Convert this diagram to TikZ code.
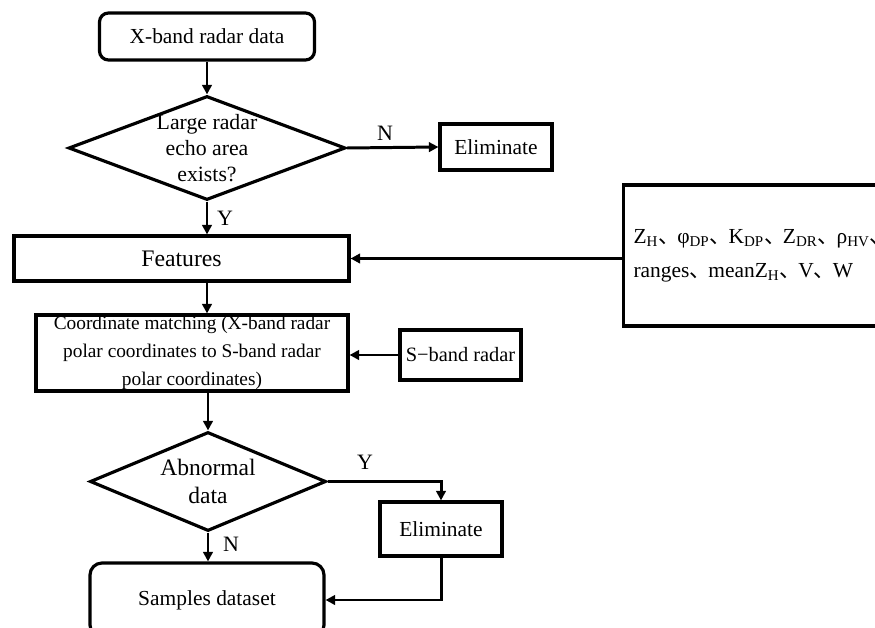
\documentclass[tikz,border=0pt]{standalone}
\usepackage{fontspec}
\setmainfont{Liberation Serif}
\newfontfamily\cjk{Noto Sans CJK SC}
\usetikzlibrary{shapes.geometric,arrows.meta}

\newlength{\du}
\setlength{\du}{0.020000cm}

\tikzset{
  procbox/.style={draw=dialinecolor, line width=1.8pt, rectangle, inner sep=0pt, align=center,
    font=\fontsize{12.2}{14.5}\selectfont},
  termbox/.style={procbox, rounded corners=9\du},
  decision/.style={draw=dialinecolor, line width=1.8pt, diamond, inner sep=0pt},
  flowarrow/.style={draw=dialinecolor, line width=1.7pt, -{Triangle[length=5.4pt,width=5.4pt]}},
  yn/.style={font=\fontsize{12.5}{14}\selectfont, inner sep=0pt}
}
\newcommand{\dun}{{\cjk 、}\kern-0.12em}

\begin{document}
\begin{tikzpicture}
\pgftransformxscale{1.000000}
\pgftransformyscale{-1.000000}
\definecolor{dialinecolor}{rgb}{0.000000, 0.000000, 0.000000}
\pgfsetstrokecolor{dialinecolor}
\path[use as bounding box, fill=white] (0.000000\du,0.000000\du) rectangle (875.000000\du,628.000000\du);
\clip (0.000000\du,0.000000\du) rectangle (875.000000\du,628.000000\du);
% setfont left to latex
\node[termbox, minimum width=215\du, minimum height=47\du] (start) at (207.000000\du,36.500000\du){X-band radar data};
\node[decision, minimum width=277\du, minimum height=104\du,
  label={[align=center, font=\fontsize{12.4}{14.6}\selectfont]center:Large radar\\echo area\\exists?}] (echo) at (207.000000\du,148.000000\du){};
\node[procbox, minimum width=112\du, minimum height=46\du] (elimA) at (496.000000\du,147.000000\du){Eliminate};
\node[procbox, minimum width=335\du, minimum height=45\du, font=\fontsize{13.5}{15}\selectfont] (feat) at (181.500000\du,258.500000\du){Features};
\node[procbox, anchor=west, minimum width=296\du, minimum height=141\du, text width=276\du, inner xsep=10\du,
  align=left, font=\fontsize{12.2}{19.3}\selectfont] (params) at (622.000000\du,255.500000\du){%
Z\textsubscript{H}\dun φ\textsubscript{DP}\dun K\textsubscript{DP}\dun Z\textsubscript{DR}\dun ρ\textsubscript{HV}\dun\\
ranges\dun meanZ\textsubscript{H}\dun V\dun W};
\node[procbox, minimum width=312\du, minimum height=76\du, font=\fontsize{11}{15.9}\selectfont] (coord) at (192.000000\du,353.000000\du){Coordinate matching (X-band radar\\polar coordinates to S-band radar\\polar coordinates)};
\node[procbox, minimum width=121\du, minimum height=50\du, font=\fontsize{11.6}{14}\selectfont] (sband) at (460.500000\du,355.000000\du){S−band radar};
\node[decision, minimum width=236\du, minimum height=99\du,
  label={[align=center, font=\fontsize{13.4}{15.9}\selectfont]center:Abnormal\\data}] (abn) at (208.000000\du,481.500000\du){};
\node[procbox, minimum width=122\du, minimum height=54\du] (elimB) at (441.000000\du,529.000000\du){Eliminate};
\node[termbox, minimum width=234\du, minimum height=74\du, rounded corners=12\du] (samples) at (207.000000\du,600.000000\du){Samples dataset};
% setfont left to latex
\node[yn] (noA) at (385.000000\du,133.000000\du){N};
\node[yn] (yesA) at (225.000000\du,218.000000\du){Y};
\node[yn] (yesB) at (365.000000\du,462.000000\du){Y};
\node[yn] (noB) at (231.000000\du,544.000000\du){N};
% connectors
\draw[flowarrow] (start.south) -- (echo.north);
\draw[flowarrow] (echo.east) -- (elimA.west);
\draw[flowarrow] (echo.south) -- (echo.south |- feat.north);
\draw[flowarrow] (params.west |- feat.east) -- (feat.east);
\draw[flowarrow] (feat.south -| echo.south) -- (coord.north -| echo.south);
\draw[flowarrow] (sband.west) -- (coord.east |- sband.west);
\draw[flowarrow] (coord.south -| abn.north) -- (abn.north);
\draw[flowarrow] (abn.east) -| (elimB.north);
\draw[flowarrow] (abn.south) -- (samples.north -| abn.south);
\draw[flowarrow] (elimB.south) |- (samples.east);
\end{tikzpicture}
\end{document}
